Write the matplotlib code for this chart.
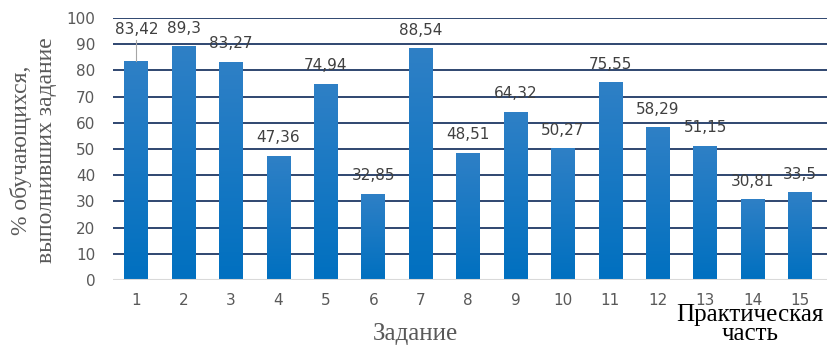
import numpy as np
import matplotlib
matplotlib.use('Agg')
import matplotlib.pyplot as plt
from matplotlib.colors import LinearSegmentedColormap

tasks = [str(i) for i in range(1, 16)]
values = [83.42, 89.3, 83.27, 47.36, 74.94, 32.85, 88.54, 48.51,
          64.32, 50.27, 75.55, 58.29, 51.15, 30.81, 33.5]
yticks = [0, 10, 20, 30, 40, 50, 60, 70, 80, 90, 100]

fig = plt.figure(figsize=(8.27, 3.47), dpi=100)
ax = fig.add_axes([0.137, 0.193, 0.863, 0.755])

x = np.arange(1, len(values) + 1)
bars = ax.bar(x, values, 0.5, color='#0F74C2', zorder=3)

# vertical gradient inside each bar
cmap = LinearSegmentedColormap.from_list('b', ['#0070C0', '#2F80C6'])
grad = np.linspace(0, 1, 256).reshape(-1, 1)
for b in bars:
    x0, w, h = b.get_x(), b.get_width(), b.get_height()
    im = ax.imshow(grad, extent=(x0, x0 + w, 0, h), origin='lower',
                   cmap=cmap, aspect='auto', zorder=4)
    im.set_clip_path(b)

ax.set_xlim(0.515, 15.57)
ax.set_ylim(0, 100)
ax.set_yticks(yticks)
ax.set_xticks(x)
ax.set_xticklabels(tasks)
for y in yticks[1:]:
    ax.axhline(y, color='#1F3864', lw=1.3, zorder=1)
ax.axhline(0, color='#D9D9D9', lw=1.5, zorder=5)

for s in ax.spines.values():
    s.set_visible(False)
ax.tick_params(length=0, labelsize=11, colors='#595959')
ax.tick_params(axis='x', pad=9)
ax.tick_params(axis='y', pad=13)

for xi, v in zip(x, values):
    txt = ('%g' % v).replace('.', ',')
    if xi == 1:
        ax.annotate(txt, (xi, 95.8), ha='center', va='center',
                    fontsize=11, color='#404040', zorder=6)
        ax.plot([xi, xi], [v, 91.5], color='#A6A6A6', lw=0.8, zorder=6)
    else:
        ax.annotate(txt, (xi, v), xytext=(0, 13), textcoords='offset points',
                    ha='center', va='center', fontsize=11,
                    color='#404040', zorder=6)

fig.text(0.04, 0.568, '% обучающихся,\nвыполнивших задание', rotation=90,
         ha='center', va='center', fontsize=17, family='Liberation Serif',
         color='#595959', linespacing=1.25)
fig.text(0.502, 0.037, 'Задание', ha='center', va='center', fontsize=18,
         family='Liberation Serif', color='#595959')
fig.text(0.907, 0.065, 'Практическая\nчасть', ha='center', va='center',
         fontsize=18, family='Liberation Serif', color='black', linespacing=0.85)

fig.savefig('out.png', dpi=100)
